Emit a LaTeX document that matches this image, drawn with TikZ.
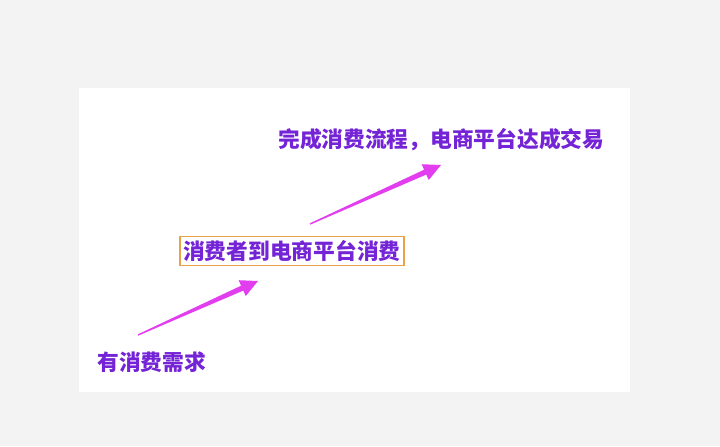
\documentclass[tikz,border=0pt]{standalone}
\usepackage{fontspec}
\newfontfamily\cjk{Noto Sans CJK SC}
\usetikzlibrary{calc}
\definecolor{bggray}{HTML}{F3F3F3}
\definecolor{txtpurple}{HTML}{7424D6}
\definecolor{arrowmag}{HTML}{E23EF0}
\definecolor{boxorange}{HTML}{E9A24A}
\tikzset{
  lbl/.style={text=txtpurple, font=\cjk\bfseries\fontsize{16.3}{18}\selectfont, inner sep=0pt},
  boxed/.style={lbl, draw=boxorange, line width=1.3pt, fill=white, inner xsep=2.5pt, inner ysep=3pt},
  arrowfill/.style={fill=arrowmag, draw=none}
}
\newcommand\taperarrow[2]{%
  \coordinate (hb) at ($(#2)!13pt!(#1)$);
  \fill[arrowfill] ($(#1)!0.5pt!90:(#2)$) -- ($(hb)!2pt!90:(#2)$) -- ($(hb)!6.5pt!90:(#2)$) -- (#2)
     -- ($(hb)!6.5pt!-90:(#2)$) -- ($(hb)!2pt!-90:(#2)$) -- ($(#1)!0.5pt!-90:(#2)$) -- cycle;
}
\begin{document}
\begin{tikzpicture}[x=0.75pt,y=-0.75pt]
  \fill[bggray] (0,0) rectangle (720,446);
  \useasboundingbox (0,0) rectangle (720,446);
  \fill[white] (79,88) rectangle (630,392);
  \node[lbl, anchor=west] (need) at (97,362) {有消费需求};
  \node[boxed, anchor=west] (visit) at (179,251) {消费者到电商平台消费};
  \node[lbl, anchor=west] (done) at (278,140) {完成消费流程，电商平台达成交易};
  \coordinate (t1) at (138,335);
  \coordinate (h1) at (258,281);
  \coordinate (t2) at (310,224);
  \coordinate (h2) at (441,165);
  \taperarrow{t1}{h1}
  \taperarrow{t2}{h2}
\end{tikzpicture}
\end{document}
